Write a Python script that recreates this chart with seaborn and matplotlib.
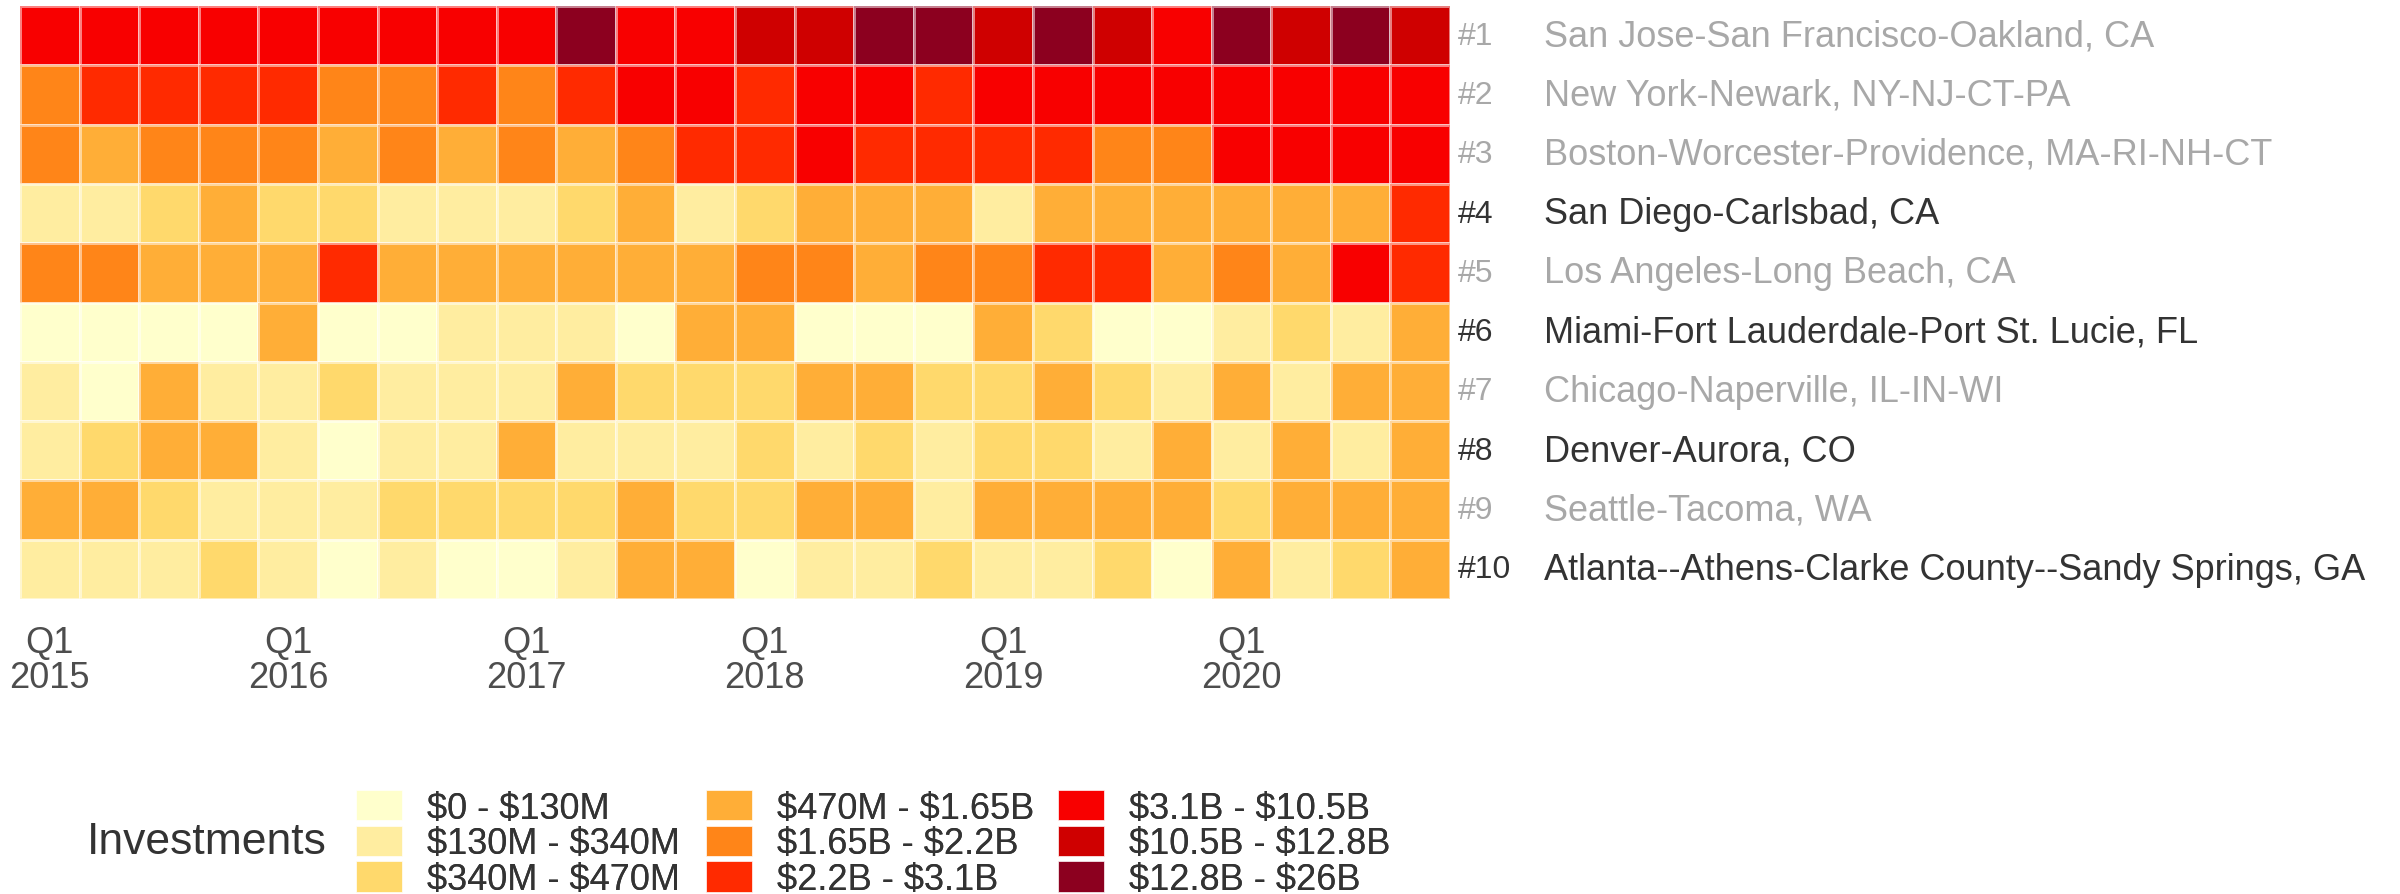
import numpy as np
import pandas as pd
import seaborn as sns
import matplotlib.pyplot as plt
from matplotlib.colors import ListedColormap, BoundaryNorm
from matplotlib.patches import Patch
from matplotlib.transforms import blended_transform_factory

sns.set_theme(style="white")
plt.rcParams['font.family'] = ['Liberation Sans', 'DejaVu Sans']

# ---------------- data ----------------
quarters = [f"Q{q} {y}" for y in range(2015, 2021) for q in range(1, 5)]
tick_labels = ["Q1\n2015", "Q1\n2016", "Q1\n2017", "Q1\n2018", "Q1\n2019", "Q1\n2020"]
ranks = ["#1", "#2", "#3", "#4", "#5", "#6", "#7", "#8", "#9", "#10"]
metros = [
    "San Jose-San Francisco-Oakland, CA",
    "New York-Newark, NY-NJ-CT-PA",
    "Boston-Worcester-Providence, MA-RI-NH-CT",
    "San Diego-Carlsbad, CA",
    "Los Angeles-Long Beach, CA",
    "Miami-Fort Lauderdale-Port St. Lucie, FL",
    "Chicago-Naperville, IL-IN-WI",
    "Denver-Aurora, CO",
    "Seattle-Tacoma, WA",
    "Atlanta--Athens-Clarke County--Sandy Springs, GA",
]
highlighted = [False, False, False, True, False, True, False, True, False, True]
bins = ["$0 - $130M", "$130M - $340M", "$340M - $470M",
        "$470M - $1.65B", "$1.65B - $2.2B", "$2.2B - $3.1B",
        "$3.1B - $10.5B", "$10.5B - $12.8B", "$12.8B - $26B"]
bin_colors = ["#FFFFCC", "#FFEDA0", "#FFD96C", "#FFAE37", "#FF8518",
              "#FF2A00", "#F80000", "#CF0000", "#8C001F"]

# investment bin index per metro per quarter (Q1 2015 .. Q4 2020)
sanjose  = [6, 6, 6, 6, 6, 6, 6, 6, 6, 8, 6, 6, 7, 7, 8, 8, 7, 8, 7, 6, 8, 7, 8, 7]
newyork  = [4, 5, 5, 5, 5, 4, 4, 5, 4, 5, 6, 6, 5, 6, 6, 5, 6, 6, 6, 6, 6, 6, 6, 6]
boston   = [4, 3, 4, 4, 4, 3, 4, 3, 4, 3, 4, 5, 5, 6, 5, 5, 5, 5, 4, 4, 6, 6, 6, 6]
sandiego = [1, 1, 2, 3, 2, 2, 1, 1, 1, 2, 3, 1, 2, 3, 3, 3, 1, 3, 3, 3, 3, 3, 3, 5]
losang   = [4, 4, 3, 3, 3, 5, 3, 3, 3, 3, 3, 3, 4, 4, 3, 4, 4, 5, 5, 3, 4, 3, 6, 5]
miami    = [0, 0, 0, 0, 3, 0, 0, 1, 1, 1, 0, 3, 3, 0, 0, 0, 3, 2, 0, 0, 1, 2, 1, 3]
chicago  = [1, 0, 3, 1, 1, 2, 1, 1, 1, 3, 2, 2, 2, 3, 3, 2, 2, 3, 2, 1, 3, 1, 3, 3]
denver   = [1, 2, 3, 3, 1, 0, 1, 1, 3, 1, 1, 1, 2, 1, 2, 1, 2, 2, 1, 3, 1, 3, 1, 3]
seattle  = [3, 3, 2, 1, 1, 1, 2, 2, 2, 2, 3, 2, 2, 3, 3, 1, 3, 3, 3, 3, 2, 3, 3, 3]
atlanta  = [1, 1, 1, 2, 1, 0, 1, 0, 0, 1, 3, 3, 0, 1, 1, 2, 1, 1, 2, 0, 3, 1, 2, 3]

matrix = pd.DataFrame([sanjose, newyork, boston, sandiego, losang, miami,
                       chicago, denver, seattle, atlanta],
                      index=metros, columns=quarters)

# ---------------- plot ----------------
W, H = 2400, 895
fig = plt.figure(figsize=(W / 100, H / 100), dpi=100)
ax = fig.add_axes([20 / W, 1 - 600 / H, 1430 / W, 593 / H])

cmap = ListedColormap(bin_colors)
norm = BoundaryNorm(np.arange(-0.5, len(bin_colors) + 0.5), cmap.N)
sns.heatmap(matrix, ax=ax, cmap=cmap, norm=norm, cbar=False,
            linewidths=0.8, linecolor=(1, 1, 1, 0.5), square=False)

ax.set_xticks(np.arange(0, len(quarters), 4) + 0.5)
ax.set_xticklabels(tick_labels, rotation=0, fontsize=26, color="#4D4D4D",
                   linespacing=1.0)
ax.tick_params(axis="x", length=0, pad=19)
ax.set_yticks([])
ax.set_xlabel("")
ax.set_ylabel("")

tr = blended_transform_factory(ax.transAxes, ax.transData)
for i, (rk, name, hl) in enumerate(zip(ranks, metros, highlighted)):
    col = "#333333" if hl else "#A8A8A8"
    ax.text(1.0056, i + 0.5, rk, transform=tr, ha="left", va="center",
            fontsize=23, color=col)
    ax.text(1.0657, i + 0.5, name, transform=tr, ha="left", va="center",
            fontsize=26, color=col)

# legend: three columns of three keys each
handles = [Patch(facecolor=c, edgecolor="white", linewidth=0.5) for c in bin_colors]
labels = [b.replace("$", r"\$") for b in bins]
col_x = [356, 706, 1058]
for k, x0 in enumerate(col_x):
    leg = fig.legend(handles[3 * k:3 * k + 3], labels[3 * k:3 * k + 3],
                     ncol=1, loc="upper left",
                     bbox_to_anchor=(x0 / W, 1 - 791 / H), frameon=False,
                     fontsize=26, handlelength=1.28, handleheight=0.92,
                     labelspacing=0.0, handletextpad=0.68,
                     borderpad=0, borderaxespad=0)
    for t in leg.get_texts():
        t.set_color("#333333")
    fig.add_artist(leg)
fig.text(87 / W, 1 - 843 / H, "Investments", fontsize=32, color="#333333",
         ha="left", va="center")

fig.savefig("out.png", dpi=100, facecolor="white")
